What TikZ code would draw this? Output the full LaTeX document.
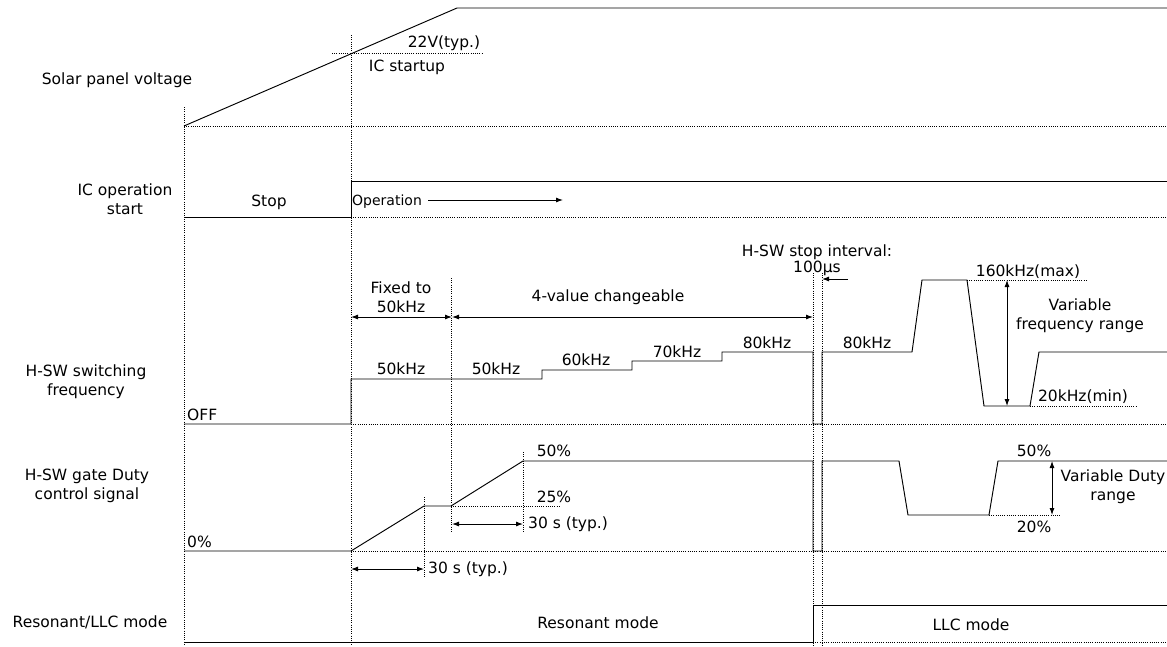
\documentclass[tikz,border=0pt]{standalone}
\usepackage{fontspec}
\setmainfont{DejaVu Sans}
\usetikzlibrary{arrows.meta}
\begin{document}
\begin{tikzpicture}[x=1pt,y=-1pt,
  sig/.style={line width=0.95pt,line join=miter},
  grid/.style={line width=0.8pt,dash pattern=on 1pt off 1.2pt},
  dimline/.style={line width=0.9pt,{Latex[length=7pt,width=5pt]}-{Latex[length=7pt,width=5pt]}},
  oneway/.style={line width=0.9pt,-{Latex[length=7pt,width=5pt]}},
  lbl/.style={font=\fontsize{15.5}{19}\selectfont,inner sep=0pt,align=center},
  small/.style={font=\fontsize{14}{17}\selectfont,inner sep=0pt}]
\useasboundingbox (0,0) rectangle (1167,646);

% ---- grid verticals
\draw[grid] (184,107) -- (184,646);
\draw[grid] (351,35) -- (351,646);
\draw[grid] (451,278) -- (451,532);
\draw[grid] (424,497) -- (424,577);
\draw[grid] (523,452) -- (523,532);
\draw[grid] (813,273) -- (813,646);
\draw[grid] (822,273) -- (822,646);

% ---- grid horizontals
\draw[grid] (184,126) -- (1167,126);
\draw[grid] (332,53) -- (483,53);
\draw[grid] (351,217) -- (1167,217);
\draw[grid] (351,424) -- (1167,424);
\draw[grid] (451,506) -- (560,506);
\draw[grid] (351,551) -- (1167,551);
\draw[grid] (967,280) -- (1088,280);
\draw[grid] (1030,406) -- (1137,406);
\draw[grid] (989,515) -- (1060,515);
\draw[grid] (813,642) -- (1167,642);

% ---- signals
\draw[sig] (184,126) -- (457,8) -- (1167,8);
\draw[sig] (184,217) -- (351,217) -- (351,181) -- (1167,181);
\draw[sig] (184,424) -- (351,424) -- (351,379) -- (542,379) -- (542,370) -- (632,370)
  -- (632,361) -- (722,361) -- (722,352) -- (813,352) -- (813,424) -- (822,424)
  -- (822,352) -- (912,352) -- (922,280) -- (967,280) -- (984,406) -- (1030,406)
  -- (1039,352) -- (1167,352);
\draw[sig] (184,551) -- (351,551) -- (424,506) -- (451,506) -- (523,461) -- (813,461)
  -- (813,551) -- (822,551) -- (822,461) -- (899,461) -- (908,515) -- (989,515)
  -- (998,461) -- (1167,461);
\draw[sig] (184,642) -- (813,642) -- (813,605) -- (1167,605);

% ---- arrow end points
\coordinate (opA) at (428,200);
\coordinate (opB) at (563,200);
\coordinate (fxA) at (351,317);
\coordinate (fxB) at (452,317);
\coordinate (chB) at (813,317);
\coordinate (siA) at (848,279);
\coordinate (siB) at (822,279);
\coordinate (frA) at (1007,280);
\coordinate (frB) at (1007,406);
\coordinate (t1A) at (351,569);
\coordinate (t1B) at (424,569);
\coordinate (t2A) at (452,524);
\coordinate (t2B) at (523,524);
\coordinate (drA) at (1052,461);
\coordinate (drB) at (1052,515);

\draw[oneway] (opA) -- (opB);
\draw[dimline] (fxA) -- (fxB);
\draw[dimline] (fxB) -- (chB);
\draw[oneway] (siA) -- (siB);
\draw[dimline] (frA) -- (frB);
\draw[dimline] (t1A) -- (t1B);
\draw[dimline] (t2A) -- (t2B);
\draw[dimline] (drA) -- (drB);

% ---- row labels
\node[lbl] (l1) at (117,80) {Solar panel voltage};
\node[lbl] (l2) at (125,199) {IC operation\\start};
\node[lbl] (l3) at (86,382) {H-SW switching\\frequency};
\node[lbl] (l4) at (87,486) {H-SW gate Duty\\control signal};
\node[lbl] (l5) at (90,622) {Resonant/LLC mode};

% ---- texts
\node[lbl] (t22) at (444,43) {22V(typ.)};
\node[lbl] (tic) at (407,67) {IC startup};
\node[lbl] (tstop) at (269,202) {Stop};
\node[small,anchor=west] (top) at (352,202) {Operation};
\node[lbl,anchor=west] (toff) at (187,415) {OFF};
\node[lbl,anchor=west] (t0) at (187,542) {0\%};
\node[lbl] (tfix) at (401,297) {Fixed to\\50kHz};
\node[lbl] (tch) at (608,297) {4-value changeable};
\node[lbl] (f1) at (401,369) {50kHz};
\node[lbl] (f2) at (496,369) {50kHz};
\node[lbl] (f3) at (586,360) {60kHz};
\node[lbl] (f4) at (677,352) {70kHz};
\node[lbl] (f5) at (767,343) {80kHz};
\node[lbl] (f6) at (867,343) {80kHz};
\node[lbl] (tsi) at (817,252) {H-SW stop interval:};
\node[lbl] (tsu) at (817,268) {100µs};
\node[lbl] (tmax) at (1028,272) {160kHz(max)};
\node[lbl] (tmin) at (1083,397) {20kHz(min)};
\node[lbl] (tvf) at (1080,316) {Variable\\frequency range};
\node[lbl] (d50) at (554,451) {50\%};
\node[lbl] (d25) at (554,497) {25\%};
\node[lbl,anchor=west] (s2) at (528,524) {30 s (typ.)};
\node[lbl,anchor=west] (s1) at (428,569) {30 s (typ.)};
\node[lbl] (d50b) at (1034,451) {50\%};
\node[lbl] (d20) at (1034,527) {20\%};
\node[lbl] (tvd) at (1113,487) {Variable Duty\\range};
\node[lbl] (trm) at (598,623) {Resonant mode};
\node[lbl] (tllc) at (971,625) {LLC mode};
\end{tikzpicture}
\end{document}
